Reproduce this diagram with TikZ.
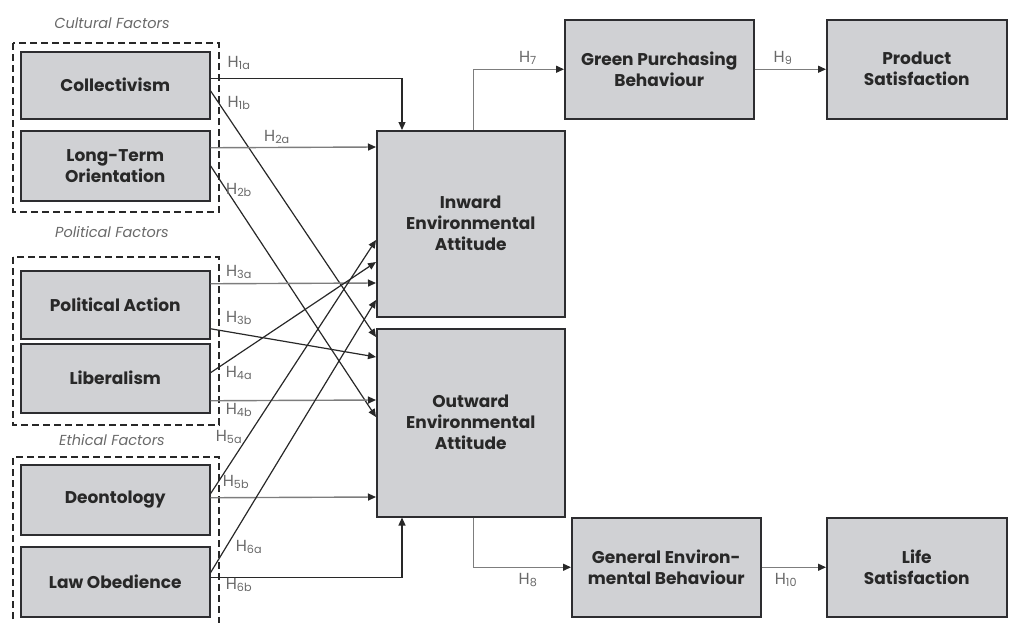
\documentclass[tikz,border=0pt]{standalone}
\usepackage{fontspec}
\setmainfont{Poppins}
\usetikzlibrary{arrows.meta,calc}
\definecolor{boxfill}{RGB}{208,209,212}
\definecolor{boxline}{RGB}{45,45,48}
\definecolor{dk}{RGB}{40,40,40}
\definecolor{gr}{RGB}{125,125,125}
\definecolor{lab}{RGB}{105,105,105}
\begin{document}
\begin{tikzpicture}[x=1pt,y=-1pt,
  box/.style={draw=boxline,line width=1.5pt,fill=boxfill,text=dk,align=center,
    inner sep=0pt,anchor=north west,font=\bfseries\fontsize{17}{21}\selectfont},
  grpbox/.style={draw=dk,line width=1.3pt,dash pattern=on 7pt off 4pt},
  grplab/.style={font=\itshape\fontsize{14.5}{16}\selectfont,text=lab},
  hl/.style={font=\fontsize{16}{18}\selectfont,text=lab,inner sep=0pt},
  arr/.style={draw=dk,line width=1.2pt,-{Triangle[length=8pt,width=7pt,color=dk]}},
  garr/.style={draw=gr,line width=1.4pt,-{Triangle[length=8pt,width=7pt,color=dk]}},
]
\useasboundingbox (0,0) rectangle (1009,622);

% group frames
\draw[grpbox] (13,43) rectangle (219,212);
\draw[grpbox] (13,257) rectangle (219,425);
\draw[grpbox] (13,630) -- (13,457) -- (219,457) -- (219,630);
\node[grplab] (gcult) at (112,23) {Cultural Factors};
\node[grplab] (gpol) at (112,232) {Political Factors};
\node[grplab] (geth) at (112,440) {Ethical Factors};

% left boxes
\node[box,minimum width=189pt,minimum height=67pt] (coll) at (20,51) {Collectivism};
\node[box,minimum width=189pt,minimum height=70pt] (lto) at (20,130) {Long-Term\\Orientation};
\node[box,minimum width=189pt,minimum height=68pt] (pol) at (20,270) {Political Action};
\node[box,minimum width=189pt,minimum height=69pt] (lib) at (20,343) {Liberalism};
\node[box,minimum width=189pt,minimum height=70pt] (deon) at (20,464) {Deontology};
\node[box,minimum width=189pt,minimum height=70pt] (law) at (20,546) {Law Obedience};

% middle and right boxes
\node[box,minimum width=188pt,minimum height=186pt] (inward) at (376,130) {Inward\\Environmental\\Attitude};
\node[box,minimum width=188pt,minimum height=188pt] (outward) at (376,328) {Outward\\Environmental\\Attitude};
\node[box,minimum width=189pt,minimum height=99pt] (green) at (564,19) {Green Purchasing\\Behaviour};
\node[box,minimum width=180pt,minimum height=99pt] (product) at (826,19) {Product\\Satisfaction};
\node[box,minimum width=189pt,minimum height=99pt] (general) at (571,517) {General Environ-\\mental Behaviour};
\node[box,minimum width=180pt,minimum height=99pt] (life) at (826,517) {Life\\Satisfaction};

% connectors
\draw[arr] ($(coll.east)+(0,-6.5)$) -| ($(inward.north west)+(26,0)$);
\draw[arr] ($(coll.east)+(0,5.5)$) -- ($(outward.north west)+(0,9)$);
\draw[garr] ($(lto.east)+(0,-18)$) -- ($(inward.north west)+(0,17)$);
\draw[arr] (lto.east) -- ($(outward.north west)+(0,89)$);
\draw[garr] ($(pol.east)+(0,-21)$) -- ($(inward.north west)+(0,153)$);
\draw[arr] ($(pol.east)+(0,24)$) -- ($(outward.north west)+(0,29)$);
\draw[arr] ($(lib.east)+(0,-5.5)$) -- ($(inward.north west)+(0,132)$);
\draw[garr] ($(lib.east)+(0,22.5)$) -- ($(outward.north west)+(0,72)$);
\draw[arr] ($(deon.east)+(0,-6)$) -- ($(inward.north west)+(0,110)$);
\draw[garr] ($(deon.east)+(0,-2)$) -- ($(outward.north west)+(0,169)$);
\draw[arr] ($(law.east)+(0,-9)$) -- ($(inward.north west)+(0,170)$);
\draw[arr] ($(law.east)+(0,-4)$) -| ($(outward.south west)+(26,0)$);
\draw[garr] ($(inward.north)+(3,0)$) |- (green.west);
\draw[garr] (green.east) -- (product.west);
\draw[garr] ($(outward.south)+(3,0)$) |- (general.west);
\draw[garr] (general.east) -- (life.west);

% hypothesis labels
\node[hl] (h1a) at (239,63) {H\textsubscript{1a}};
\node[hl] (h1b) at (239,103) {H\textsubscript{1b}};
\node[hl] (h2a) at (277,137) {H\textsubscript{2a}};
\node[hl] (h2b) at (239,190) {H\textsubscript{2b}};
\node[hl] (h3a) at (239,272) {H\textsubscript{3a}};
\node[hl] (h3b) at (239,318) {H\textsubscript{3b}};
\node[hl] (h4a) at (239,373) {H\textsubscript{4a}};
\node[hl] (h4b) at (239,410) {H\textsubscript{4b}};
\node[hl] (h5a) at (229,437) {H\textsubscript{5a}};
\node[hl] (h5b) at (236,482) {H\textsubscript{5b}};
\node[hl] (h6a) at (249,547) {H\textsubscript{6a}};
\node[hl] (h6b) at (239,585) {H\textsubscript{6b}};
\node[hl] (h7) at (528,58) {H\textsubscript{7}};
\node[hl] (h9) at (783,58) {H\textsubscript{9}};
\node[hl] (h8) at (528,580) {H\textsubscript{8}};
\node[hl] (h10) at (786,580) {H\textsubscript{10}};
\end{tikzpicture}
\end{document}
